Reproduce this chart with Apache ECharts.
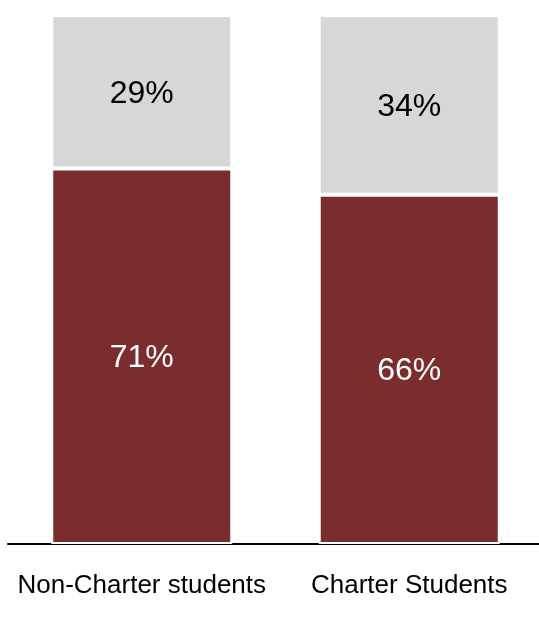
<!DOCTYPE html>
<html>
<head>
<meta charset="utf-8">
<script src="https://cdn.jsdelivr.net/npm/echarts@6/dist/echarts.min.js"></script>
<style>
  html, body { margin: 0; padding: 0; background: #fff; }
  #chart { width: 539px; height: 634px; }
</style>
</head>
<body>
<div id="chart"></div>
<script>
const categories = ["Non-Charter students", "Charter Students"];
const bottomValues = [71, 66];
const topValues = [29, 34];

const myChart = echarts.init(document.getElementById("chart"));

var option = {
  animation: false,
  backgroundColor: "#fff",
  grid: {
    left: 8,
    right: -4,
    top: 15,
    bottom: 90,
    outerBoundsMode: "none",
    containLabel: false,
  },
  xAxis: {
    type: "category",
    data: categories,
    axisLine: { lineStyle: { color: "#000", width: 2 } },
    axisTick: { show: false },
    axisLabel: {
      interval: 0,
      color: "#000",
      fontFamily: "Liberation Sans",
      fontSize: 26,
      margin: 29,
    },
  },
  yAxis: {
    type: "value",
    min: 0,
    max: 100,
    show: false,
  },
  series: [
    {
      type: "bar",
      stack: "total",
      data: bottomValues,
      barWidth: 181,
      itemStyle: { color: "#7b2d2e", borderColor: "#fff", borderWidth: 2 },
      label: {
        show: true,
        position: "inside",
        formatter: "{c}%",
        color: "#fff",
        fontFamily: "Liberation Sans",
        fontSize: 32,
        offset: [0, 2],
      },
    },
    {
      type: "bar",
      stack: "total",
      data: topValues,
      barWidth: 181,
      itemStyle: { color: "#d7d7d9", borderColor: "#fff", borderWidth: 2 },
      label: {
        show: true,
        position: "inside",
        formatter: "{c}%",
        color: "#000",
        fontFamily: "Liberation Sans",
        fontSize: 32,
        offset: [0, 2],
      },
    },
  ],
};
myChart.setOption(option);
</script>
</body>
</html>
